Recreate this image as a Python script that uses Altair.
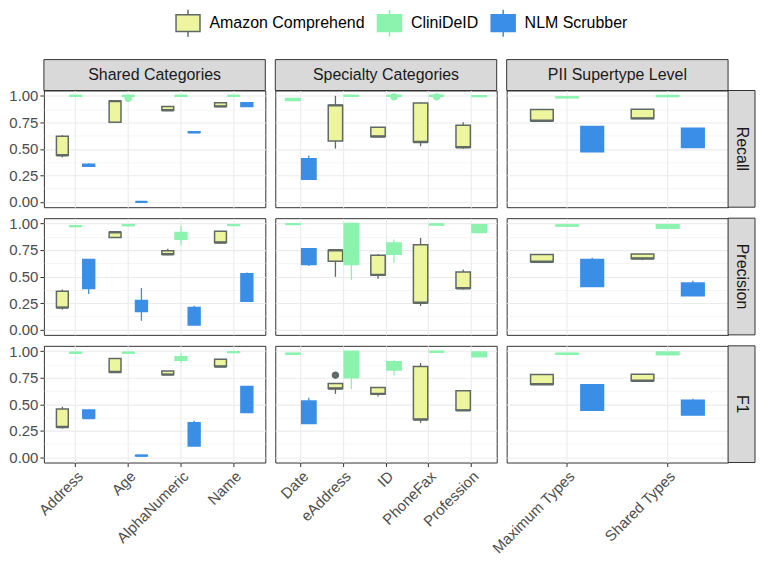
import altair as alt
import pandas as pd

FONT = "Liberation Sans"

tools = ["Amazon Comprehend", "CliniDeID", "NLM Scrubber"]
fill_colors = ["#EEF59F", "#8CF3AF", "#3B8EE6"]
stroke_colors = ["#5F6A64", "#8CF3AF", "#3B8EE6"]

metrics = ["Recall", "Precision", "F1"]
groups = ["Shared Categories", "Specialty Categories", "PII Supertype Level"]
shared_cats = ["Address", "Age", "AlphaNumeric", "Name"]
specialty_cats = ["Date", "eAddress", "ID", "PhoneFax", "Profession"]
pii_cats = ["Maximum Types", "Shared Types"]
cat_lists = [shared_cats, specialty_cats, pii_cats]

A, C, N = tools
SH, SP, PI = groups

# one entry per box: (group, category, tool)
box_groups = [SH] * 12 + [SP] * 10 + [PI] * 6
box_categories = (["Address"] * 3 + ["Age"] * 3 + ["AlphaNumeric"] * 3 + ["Name"] * 3
                  + ["Date"] * 2 + ["eAddress"] * 2 + ["ID"] * 2 + ["PhoneFax"] * 2 + ["Profession"] * 2
                  + ["Maximum Types"] * 3 + ["Shared Types"] * 3)
box_tools = ([A, C, N] * 4
             + [C, N] + [A, C] * 4
             + [A, C, N] * 2)

# (lower whisker, q1, median, q3, upper whisker), same order as the keys above
recall_stats = [
    (0.42, 0.44, 0.44, 0.62, 0.63), (0.995, 0.998, 1.0, 1.0, 1.0), (0.33, 0.335, 0.345, 0.355, 0.365),
    (0.75, 0.75, 0.95, 0.95, 0.955), (0.99, 0.995, 1.0, 1.0, 1.0), (0.0, 0.0, 0.0, 0.0, 0.0),
    (0.86, 0.864, 0.864, 0.90, 0.905), (0.995, 0.998, 1.0, 1.0, 1.0), (0.655, 0.655, 0.657, 0.66, 0.66),
    (0.90, 0.90, 0.90, 0.935, 0.94), (0.995, 0.998, 1.0, 1.0, 1.0), (0.90, 0.90, 0.91, 0.935, 0.935),
    (0.955, 0.955, 0.965, 0.975, 0.975), (0.21, 0.213, 0.30, 0.407, 0.438),
    (0.503, 0.574, 0.91, 0.91, 1.0), (0.995, 0.998, 1.0, 1.0, 1.0),
    (0.615, 0.617, 0.617, 0.703, 0.705), (0.995, 0.998, 1.0, 1.0, 1.0),
    (0.525, 0.565, 0.565, 0.932, 0.94), (0.995, 0.998, 1.0, 1.0, 1.0),
    (0.50, 0.515, 0.515, 0.722, 0.75), (0.993, 0.995, 0.997, 1.0, 1.0),
    (0.765, 0.765, 0.765, 0.87, 0.87), (0.982, 0.983, 0.985, 0.99, 0.99), (0.472, 0.472, 0.60, 0.71, 0.71),
    (0.787, 0.787, 0.787, 0.873, 0.873), (0.995, 0.995, 0.998, 1.0, 1.0), (0.512, 0.512, 0.60, 0.694, 0.694),
]
precision_stats = [
    (0.188, 0.207, 0.207, 0.361, 0.377), (0.972, 0.973, 0.975, 0.977, 0.978), (0.336, 0.386, 0.50, 0.66, 0.665),
    (0.867, 0.867, 0.917, 0.917, 0.917), (0.98, 0.981, 0.984, 0.987, 0.988), (0.083, 0.17, 0.22, 0.275, 0.392),
    (0.70, 0.71, 0.71, 0.744, 0.762), (0.793, 0.852, 0.88, 0.914, 0.978), (0.043, 0.043, 0.10, 0.207, 0.225),
    (0.81, 0.821, 0.821, 0.926, 0.926), (0.982, 0.983, 0.984, 0.986, 0.987), (0.266, 0.266, 0.40, 0.525, 0.537),
    (0.992, 0.993, 0.994, 0.996, 0.996), (0.60, 0.614, 0.70, 0.762, 0.77),
    (0.497, 0.645, 0.747, 0.747, 0.75), (0.466, 0.614, 0.80, 1.0, 1.0),
    (0.478, 0.515, 0.515, 0.70, 0.713), (0.63, 0.71, 0.76, 0.815, 0.849),
    (0.222, 0.253, 0.253, 0.80, 0.864), (0.988, 0.989, 0.99, 0.992, 0.993),
    (0.377, 0.389, 0.389, 0.543, 0.565), (0.914, 0.914, 0.95, 0.988, 0.988),
    (0.627, 0.639, 0.639, 0.707, 0.707), (0.978, 0.979, 0.981, 0.983, 0.984), (0.407, 0.407, 0.55, 0.66, 0.676),
    (0.654, 0.67, 0.67, 0.713, 0.713), (0.954, 0.954, 0.97, 0.988, 0.988), (0.318, 0.318, 0.38, 0.438, 0.46),
]
f1_stats = [
    (0.27, 0.285, 0.285, 0.455, 0.476), (0.983, 0.984, 0.985, 0.987, 0.988), (0.36, 0.37, 0.37, 0.445, 0.447),
    (0.803, 0.803, 0.803, 0.93, 0.93), (0.983, 0.984, 0.985, 0.987, 0.988), (0.012, 0.013, 0.015, 0.017, 0.018),
    (0.775, 0.779, 0.779, 0.812, 0.812), (0.89, 0.915, 0.93, 0.948, 0.979), (0.106, 0.106, 0.20, 0.324, 0.343),
    (0.85, 0.855, 0.855, 0.924, 0.924), (0.988, 0.989, 0.991, 0.993, 0.993), (0.421, 0.421, 0.55, 0.667, 0.672),
    (0.973, 0.974, 0.976, 0.978, 0.979), (0.318, 0.318, 0.42, 0.53, 0.56),
    (0.597, 0.648, 0.648, 0.694, 0.694), (0.642, 0.748, 0.85, 1.0, 1.0),
    (0.573, 0.597, 0.597, 0.658, 0.658), (0.77, 0.821, 0.86, 0.90, 0.915),
    (0.324, 0.355, 0.355, 0.855, 0.888), (0.992, 0.993, 0.994, 0.996, 0.996),
    (0.442, 0.442, 0.442, 0.627, 0.627), (0.948, 0.948, 0.97, 0.991, 0.991),
    (0.688, 0.688, 0.688, 0.779, 0.779), (0.973, 0.974, 0.976, 0.978, 0.979), (0.442, 0.442, 0.56, 0.682, 0.688),
    (0.712, 0.721, 0.721, 0.782, 0.782), (0.966, 0.966, 0.98, 0.991, 0.991), (0.397, 0.397, 0.47, 0.536, 0.552),
]

outlier_metric = ["Recall", "Recall", "Recall", "F1"]
outlier_group = [SH, SP, SP, SP]
outlier_category = ["Age", "ID", "PhoneFax", "eAddress"]
outlier_tool = [C, C, C, A]
outlier_value = [0.975, 0.99, 0.99, 0.773]

# ---- tables ----
frames = []
for metric, stats in zip(metrics, [recall_stats, precision_stats, f1_stats]):
    f = pd.DataFrame(stats, columns=["lo", "q1", "med", "q3", "hi"])
    f["metric"] = metric
    f["group"] = box_groups
    f["category"] = box_categories
    f["tool"] = box_tools
    frames.append(f)
box_df = pd.concat(frames, ignore_index=True)
box_df["slot"] = box_df.groupby(["metric", "group", "category"]).cumcount()

out_df = pd.DataFrame({"metric": outlier_metric, "group": outlier_group,
                       "category": outlier_category, "tool": outlier_tool,
                       "value": outlier_value})
out_df = out_df.merge(box_df[["metric", "group", "category", "tool", "slot"]],
                      on=["metric", "group", "category", "tool"], how="left")

# ---- styling ----
W, H = 222, 117
STRIP_H, STRIP_W = 31, 27
GRID = "#EBEBEB"
DARK = "#333333"
TICKLAB = "#4D4D4D"

fill_scale = alt.Scale(domain=tools, range=fill_colors)
stroke_scale = alt.Scale(domain=tools, range=stroke_colors)
yscale = alt.Scale(domain=[-0.05, 1.05], nice=False, zero=False)
yvals = [i / 8 for i in range(9)]
major = "round(datum.value * 8) % 2 === 0"

legend = alt.Legend(
    orient="none", legendX=130, legendY=-82, direction="horizontal",
    symbolType="M-0.89,-0.62H0.89V0.62H-0.89Z M0,-0.62V-1 M0,0.62V1",
    symbolSize=729, symbolStrokeWidth=1.5,
    labelFontSize=16, labelFont=FONT, labelColor="#000000", labelOffset=7,
    columnPadding=9, padding=0, title=None,
)


def y_axis(show):
    return alt.Axis(
        values=yvals,
        labelExpr=f"{major} ? format(datum.value, '.2f') : ''",
        labels=show, ticks=show, domain=False,
        grid=True, gridColor=GRID,
        gridWidth={"condition": {"test": major, "value": 1.1}, "value": 0.55},
        tickSize=4, tickColor=DARK, tickWidth=1,
        tickOpacity={"condition": {"test": major, "value": 1}, "value": 0},
        labelFontSize=15, labelFont=FONT, labelColor=TICKLAB, labelPadding=2,
        labelOverlap=False, title=None,
    )


def x_axis(show):
    return alt.Axis(
        labels=show, ticks=show, domain=False,
        grid=True, gridColor=GRID, gridWidth=1.1, bandPosition=0.5,
        labelAngle=315, labelAlign="right", labelBaseline="top",
        tickSize=4, tickColor=DARK, tickWidth=1,
        labelFontSize=15, labelFont=FONT, labelColor=TICKLAB, labelPadding=2,
        labelOverlap=False, title=None,
    )


def make_panel(mi, gi):
    metric, group = metrics[mi], groups[gi]
    cats = cat_lists[gi]
    d = box_df[(box_df.metric == metric) & (box_df.group == group)]
    o = out_df[(out_df.metric == metric) & (out_df.group == group)]
    nslots = int(box_df[box_df.group == group].slot.max()) + 1
    po = (nslots / 3 + 0.1) / 2
    xa = x_axis(mi == 2)
    ya = y_axis(gi == 0)
    x = alt.X("category:N", sort=cats,
              scale=alt.Scale(domain=cats, paddingInner=0, paddingOuter=0.1), axis=xa)
    xo = alt.XOffset("slot:O", scale=alt.Scale(domain=list(range(nslots)),
                                                paddingInner=0.1, paddingOuter=po))
    fill = alt.Fill("tool:N", scale=fill_scale, legend=legend)
    stroke = alt.Stroke("tool:N", scale=stroke_scale, legend=legend)

    base = alt.Chart(d)
    layers = [
        base.mark_rule(strokeWidth=1.3).encode(
            x=x, xOffset=xo, y=alt.Y("lo:Q", scale=yscale, axis=ya), y2="hi:Q", stroke=stroke),
        base.mark_bar(strokeWidth=1.5).encode(
            x=x, xOffset=xo, y=alt.Y("q1:Q", scale=yscale, axis=ya), y2="q3:Q",
            fill=fill, stroke=stroke),
        base.mark_bar(strokeWidth=2.4, fillOpacity=0).encode(
            x=x, xOffset=xo, y=alt.Y("med:Q", scale=yscale, axis=ya), y2="med:Q", stroke=stroke),
    ]
    if len(o):
        layers.append(alt.Chart(o).mark_point(filled=False, size=12, strokeWidth=4, opacity=1).encode(
            x=x, xOffset=xo, y=alt.Y("value:Q", scale=yscale, axis=ya), stroke=stroke))
    if mi == 0:
        sdf = pd.DataFrame({"label": [group]})
        layers.append(alt.Chart(sdf).mark_rect(fill="#D9D9D9", stroke=DARK, strokeWidth=1).encode(
            x=alt.value(0), x2=alt.value(W), y=alt.value(-STRIP_H), y2=alt.value(0)))
        layers.append(alt.Chart(sdf).mark_text(fontSize=16, font=FONT, color="#1A1A1A").encode(
            x=alt.value(W / 2), y=alt.value(-STRIP_H / 2), text="label:N"))
    if gi == 2:
        rdf = pd.DataFrame({"label": [metric]})
        layers.append(alt.Chart(rdf).mark_rect(fill="#D9D9D9", stroke=DARK, strokeWidth=1).encode(
            x=alt.value(W), x2=alt.value(W + STRIP_W), y=alt.value(0), y2=alt.value(H)))
        layers.append(alt.Chart(rdf).mark_text(fontSize=16, font=FONT, color="#1A1A1A", angle=90).encode(
            x=alt.value(W + STRIP_W / 2), y=alt.value(H / 2), text="label:N"))
    return alt.layer(*layers).properties(width=W, height=H)


panels = [make_panel(mi, gi) for mi in range(3) for gi in range(3)]

chart = alt.concat(
    *panels, columns=3, spacing={"row": 11, "column": 10}, bounds="flush"
).resolve_scale(
    x="independent", y="independent", xOffset="independent"
).properties(
    padding={"left": 0, "top": 0, "right": 0, "bottom": 0}
).configure(
    font=FONT
).configure_view(
    stroke=DARK, strokeWidth=1, fill="white"
)

chart.save("out.html", embed_options={"renderer": "svg", "actions": False})
